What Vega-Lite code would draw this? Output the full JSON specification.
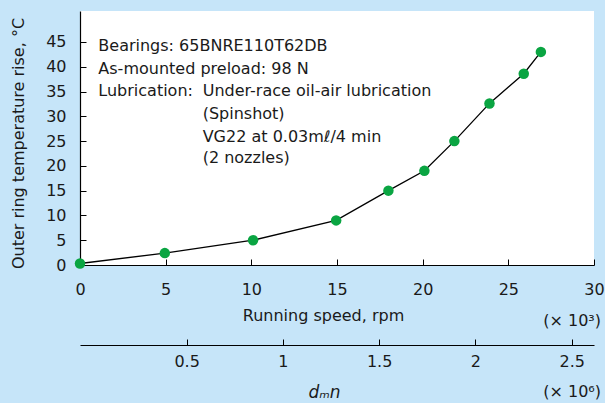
{
  "$schema": "https://vega.github.io/schema/vega-lite/v6.json",
  "width": 514,
  "height": 254,
  "autosize": {"type": "none"},
  "padding": {"left": 80, "top": 11, "right": 11, "bottom": 138},
  "background": "#c6e5f9",
  "config": {
    "view": {"fill": "white", "stroke": null},
    "font": "DejaVu Sans",
    "axis": {
      "grid": false,
      "domainColor": "black",
      "domainWidth": 1.2,
      "tickColor": "black",
      "tickWidth": 1,
      "labelFont": "DejaVu Sans",
      "labelFontSize": 16,
      "labelColor": "#1a1a1a",
      "titleFont": "DejaVu Sans",
      "titleFontSize": 16,
      "titleFontWeight": "normal",
      "titleColor": "#1a1a1a"
    }
  },
  "datasets": {
    "curve": [
      {"speed": 0, "rise": 0.3},
      {"speed": 4.95, "rise": 2.4},
      {"speed": 10.1, "rise": 5.0},
      {"speed": 14.95, "rise": 9.0},
      {"speed": 18.0, "rise": 15.0},
      {"speed": 20.1, "rise": 19.0},
      {"speed": 21.85, "rise": 25.0},
      {"speed": 23.9, "rise": 32.6},
      {"speed": 25.9, "rise": 38.6},
      {"speed": 26.9, "rise": 43.0}
    ],
    "notes": [
      {"speed": 1.07, "rise": 43.24, "label": "Bearings: 65BNRE110T62DB"},
      {"speed": 1.07, "rise": 38.48, "label": "As-mounted preload: 98 N"},
      {"speed": 1.07, "rise": 34.0, "label": "Lubrication:"},
      {"speed": 7.16, "rise": 34.0, "label": "Under-race oil-air lubrication"},
      {"speed": 7.16, "rise": 29.46, "label": "(Spinshot)"},
      {"speed": 7.16, "rise": 24.88, "label": "VG22 at 0.03mℓ/4 min"},
      {"speed": 7.16, "rise": 20.48, "label": "(2 nozzles)"}
    ],
    "units": [
      {"speed": 30.41, "rise": -12.3, "label": "(× 10³)"},
      {"speed": 30.41, "rise": -26.6, "label": "(× 10⁶)"}
    ],
    "dmnticks": [
      {"dmn": 0.5}, {"dmn": 1}, {"dmn": 1.5}, {"dmn": 2}, {"dmn": 2.5}
    ]
  },
  "layer": [
    {
      "encoding": {
        "x": {
          "field": "speed",
          "type": "quantitative",
          "scale": {"domain": [0, 30], "nice": false, "zero": false},
          "axis": {
            "values": [0, 5, 10, 15, 20, 25, 30],
            "tickSize": -6,
            "labelPadding": 22,
            "title": "Running speed, rpm",
            "titleX": 243,
            "titleY": 55,
            "titleAlign": "center",
            "titleBaseline": "alphabetic",
            "labelFlush": false
          }
        },
        "y": {
          "field": "rise",
          "type": "quantitative",
          "scale": {"domain": [0, 51.25], "nice": false, "zero": false},
          "axis": {
            "values": [0, 5, 10, 15, 20, 25, 30, 35, 40, 45],
            "tickSize": -6,
            "labelPadding": 20,
            "title": "Outer ring temperature rise, °C",
            "titleAngle": -90,
            "titleX": -62,
            "titleY": 132,
            "titleAlign": "center",
            "titleBaseline": "middle",
            "labelFlush": false
          }
        }
      },
      "layer": [
        {
          "data": {"name": "curve"},
          "mark": {"type": "line", "color": "black", "strokeWidth": 1.3}
        },
        {
          "data": {"name": "curve"},
          "mark": {"type": "point", "filled": true, "size": 110, "color": "#0aa542", "opacity": 1}
        },
        {
          "data": {"name": "notes"},
          "mark": {"type": "text", "align": "left", "baseline": "alphabetic", "fontSize": 16, "color": "#1a1a1a"},
          "encoding": {"text": {"field": "label"}}
        },
        {
          "data": {"name": "units"},
          "mark": {"type": "text", "align": "right", "baseline": "alphabetic", "fontSize": 16, "color": "#1a1a1a", "clip": false},
          "encoding": {"text": {"field": "label"}}
        }
      ]
    },
    {
      "data": {"name": "dmnticks"},
      "mark": {"type": "point", "opacity": 0},
      "encoding": {
        "x": {
          "field": "dmn",
          "type": "quantitative",
          "scale": {"domain": [-0.054, 2.616], "nice": false, "zero": false},
          "axis": {
            "orient": "bottom",
            "offset": 80,
            "values": [0.5, 1, 1.5, 2, 2.5],
            "format": "~g",
            "tickSize": -6,
            "labelPadding": 14,
            "title": "dₘn",
            "titleFontStyle": "italic",
            "titleFontSize": 17,
            "titleX": 244,
            "titleY": 52,
            "titleAlign": "center",
            "titleBaseline": "alphabetic",
            "labelFlush": false
          }
        }
      }
    }
  ],
  "resolve": {"scale": {"x": "independent"}}
}
